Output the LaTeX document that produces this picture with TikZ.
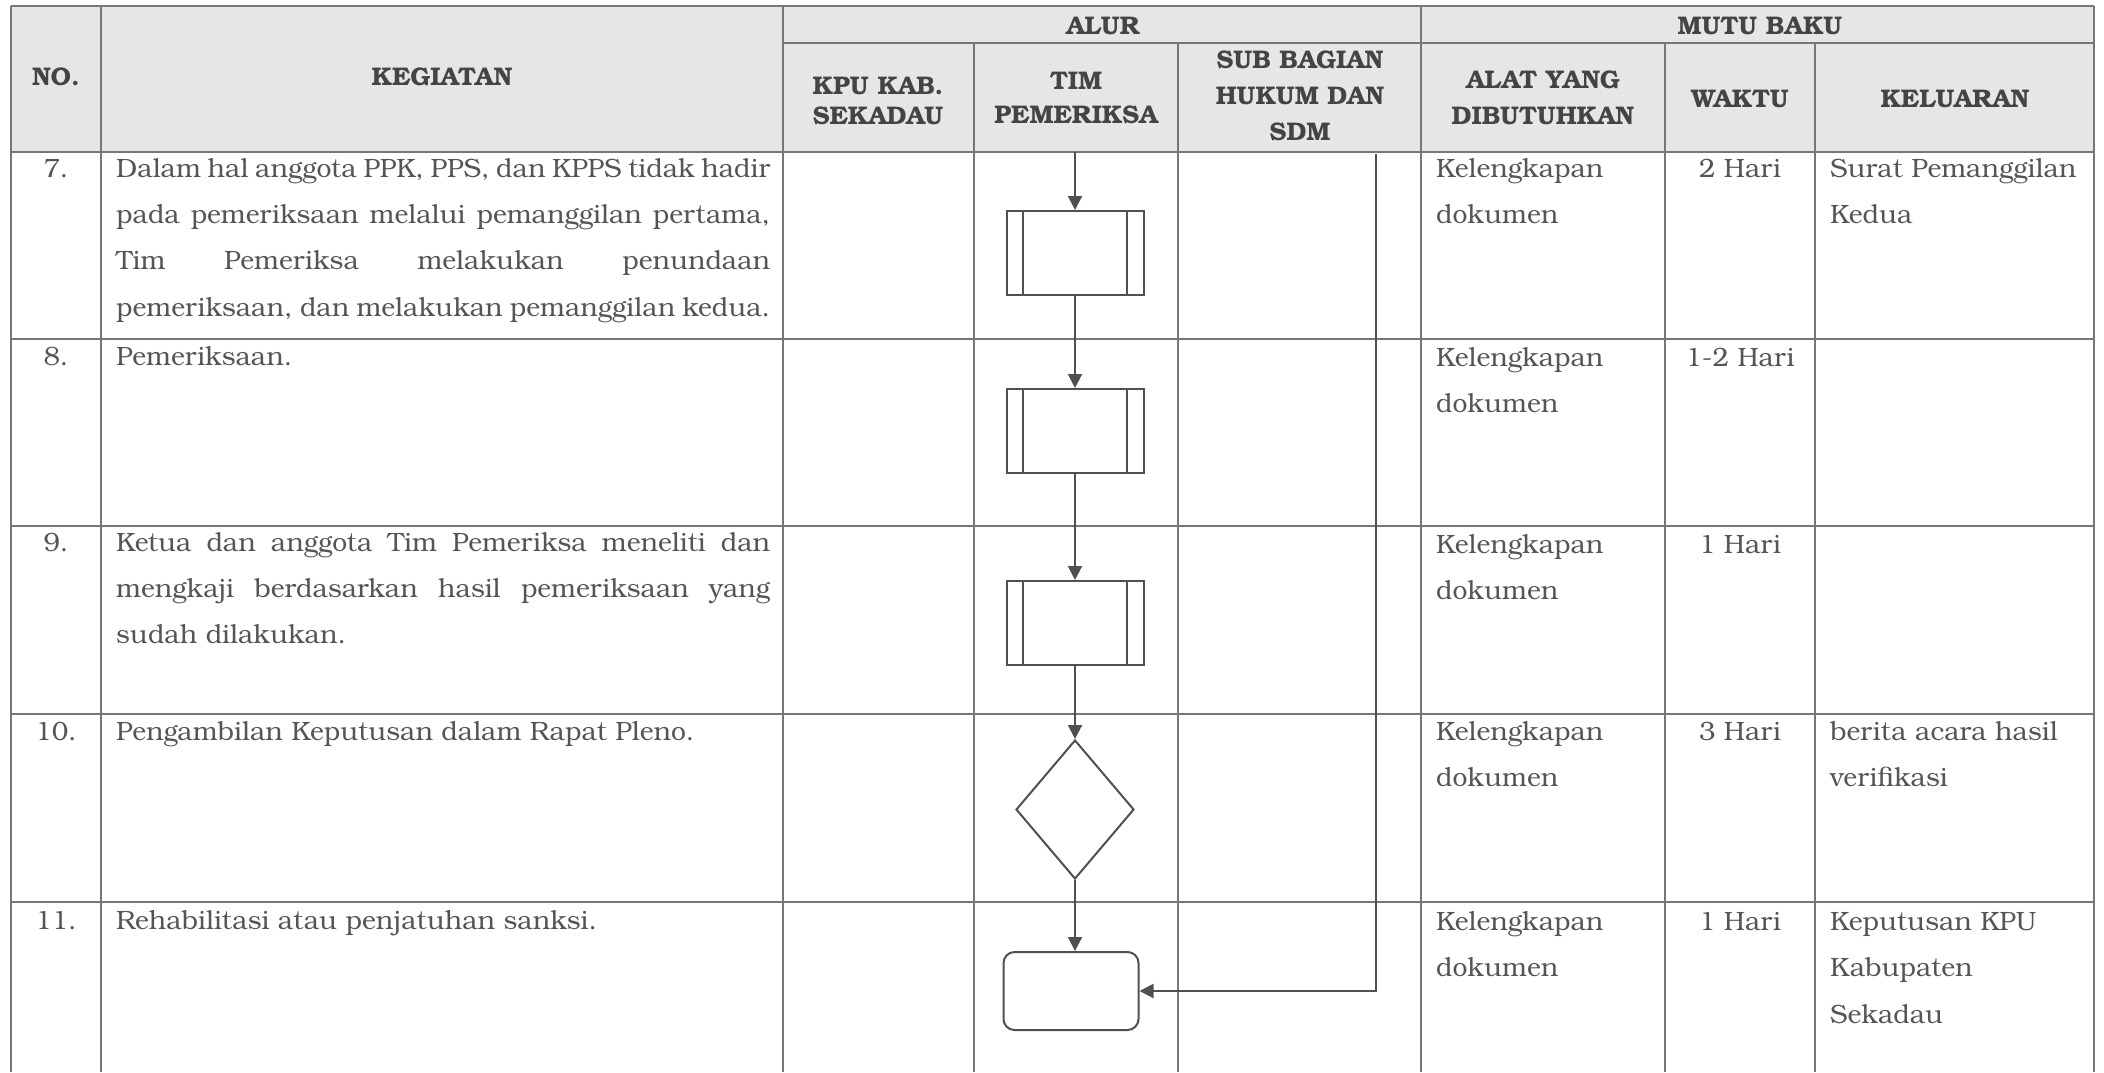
\documentclass[tikz,border=0pt]{standalone}
\usepackage{fontspec}
\setmainfont{texgyrebonum}[Extension=.otf, UprightFont=*-regular, BoldFont=*-bold, ItalicFont=*-italic, BoldItalicFont=*-bolditalic]
\usetikzlibrary{arrows.meta,shapes.geometric}
\definecolor{linec}{HTML}{777777}
\definecolor{headbg}{HTML}{E6E6E6}
\definecolor{txtc}{HTML}{555555}
\definecolor{headc}{HTML}{444444}
\definecolor{flowc}{HTML}{505050}
\tikzset{
  gridline/.style={draw=linec, line width=1.3pt},
  bodytxt/.style={inner sep=0pt, text=txtc, font=\fontsize{26.5}{30}\selectfont},
  headtxt/.style={inner sep=0pt, text=headc, font=\fontsize{25.5}{30}\selectfont\bfseries},
  procbox/.style={draw=flowc, line width=2pt, minimum width=137pt, minimum height=84pt, inner sep=0pt},
  decbox/.style={draw=flowc, line width=2pt, diamond, minimum width=118pt, minimum height=139pt, inner sep=0pt},
  endbox/.style={draw=flowc, line width=2pt, rounded corners=11pt, minimum width=135pt, minimum height=78pt, inner sep=0pt},
  flowarrow/.style={draw=flowc, line width=2pt, -{Triangle[length=14pt,width=14pt]}},
  flowline/.style={draw=flowc, line width=2pt},
}
\newcommand{\jline}[1]{\makebox[654pt][s]{#1}}
\begin{document}
\begin{tikzpicture}[x=1pt,y=-1pt]
\useasboundingbox (0,0) rectangle (2104,1072);
% header background
\fill[headbg] (11,6) rectangle (2094,152);
% horizontal lines
\draw[gridline] (11,6) -- (2094,6);
\draw[gridline] (783,43) -- (2094,43);
\foreach \yy in {152,339,526,714,902} {\draw[gridline] (11,\yy) -- (2094,\yy);}
% vertical lines
\foreach \xx in {11,101,783,1421,2094} {\draw[gridline] (\xx,6) -- (\xx,1072);}
\foreach \xx in {974,1178,1665,1815} {\draw[gridline] (\xx,43) -- (\xx,1072);}

% header texts
\node[headtxt, anchor=base] (hno) at (56,85) {NO.};
\node[headtxt, anchor=base] (hkeg) at (442,85) {KEGIATAN};
\node[headtxt, anchor=base] (halur) at (1103,34) {ALUR};
\node[headtxt, anchor=base] (hmutu) at (1760,34) {MUTU BAKU};
\node[headtxt, anchor=base] (hkpu1) at (878,94) {KPU KAB.};
\node[headtxt, anchor=base] (hkpu2) at (878,124) {SEKADAU};
\node[headtxt, anchor=base] (htim1) at (1076,89) {TIM};
\node[headtxt, anchor=base] (htim2) at (1076,123) {PEMERIKSA};
\node[headtxt, anchor=base] (hsub1) at (1300,68) {SUB BAGIAN};
\node[headtxt, anchor=base] (hsub2) at (1300,104) {HUKUM DAN};
\node[headtxt, anchor=base] (hsub3) at (1300,140) {SDM};
\node[headtxt, anchor=base] (halat1) at (1543,88) {ALAT YANG};
\node[headtxt, anchor=base] (halat2) at (1543,124) {DIBUTUHKAN};
\node[headtxt, anchor=base] (hwaktu) at (1740,107) {WAKTU};
\node[headtxt, anchor=base] (hkel) at (1955,107) {KELUARAN};

% numbers
\node[bodytxt, anchor=base] (n7) at (56,177) {7.};
\node[bodytxt, anchor=base] (n8) at (56,365) {8.};
\node[bodytxt, anchor=base] (n9) at (56,551) {9.};
\node[bodytxt, anchor=base] (n10) at (56,740) {10.};
\node[bodytxt, anchor=base] (n11) at (56,929) {11.};

% kegiatan
\node[bodytxt, anchor=base west] (k7a) at (116,177) {\jline{Dalam hal anggota PPK, PPS, dan KPPS tidak hadir}};
\node[bodytxt, anchor=base west] (k7b) at (116,223) {\jline{pada pemeriksaan melalui pemanggilan pertama,}};
\node[bodytxt, anchor=base west] (k7c) at (116,269) {\jline{Tim Pemeriksa melakukan penundaan}};
\node[bodytxt, anchor=base west] (k7d) at (116,316) {\jline{pemeriksaan, dan melakukan pemanggilan kedua.}};
\node[bodytxt, anchor=base west] (k8a) at (116,365) {Pemeriksaan.};
\node[bodytxt, anchor=base west] (k9a) at (116,551) {\jline{Ketua dan anggota Tim Pemeriksa meneliti dan}};
\node[bodytxt, anchor=base west] (k9b) at (116,597) {\jline{mengkaji berdasarkan hasil pemeriksaan yang}};
\node[bodytxt, anchor=base west] (k9c) at (116,643) {sudah dilakukan.};
\node[bodytxt, anchor=base west] (k10a) at (116,740) {Pengambilan Keputusan dalam Rapat Pleno.};
\node[bodytxt, anchor=base west] (k11a) at (116,929) {Rehabilitasi atau penjatuhan sanksi.};

% alat
\foreach \yy/\nm in {177/7,366/8,553/9,740/10,930/11} {
  \node[bodytxt, anchor=base west] (a\nm a) at (1436,\yy) {Kelengkapan};
  \node[bodytxt, anchor=base west] (a\nm b) at (1436,\yy+46.5) {dokumen};
}
% waktu
\node[bodytxt, anchor=base] (w7) at (1740,177) {2 Hari};
\node[bodytxt, anchor=base] (w8) at (1740,366) {1-2 Hari};
\node[bodytxt, anchor=base] (w9) at (1740,553) {1 Hari};
\node[bodytxt, anchor=base] (w10) at (1740,740) {3 Hari};
\node[bodytxt, anchor=base] (w11) at (1740,930) {1 Hari};
% keluaran
\node[bodytxt, anchor=base west] (o7a) at (1830,177) {Surat Pemanggilan};
\node[bodytxt, anchor=base west] (o7b) at (1830,223.5) {Kedua};
\node[bodytxt, anchor=base west] (o10a) at (1830,740) {berita acara hasil};
\node[bodytxt, anchor=base west] (o10b) at (1830,786.5) {verifikasi};
\node[bodytxt, anchor=base west] (o11a) at (1830,930) {Keputusan KPU};
\node[bodytxt, anchor=base west] (o11b) at (1830,976.5) {Kabupaten};
\node[bodytxt, anchor=base west] (o11c) at (1830,1023) {Sekadau};

% flowchart
\node[procbox] (b1) at (1075,253) {};
\node[procbox] (b2) at (1075,431) {};
\node[procbox] (b3) at (1075,623) {};
\foreach \bb in {b1,b2,b3} {
  \draw[flowline] ([xshift=17pt]\bb.north west) -- ([xshift=17pt]\bb.south west);
  \draw[flowline] ([xshift=-18pt]\bb.north east) -- ([xshift=-18pt]\bb.south east);
}
\node[decbox] (d1) at (1075,809.5) {};
\node[endbox] (r1) at (1071,991) {};
\coordinate (t0) at (1075,152);
\coordinate (s0) at (1376,154);
\draw[flowarrow] (t0) -- (b1.north);
\draw[flowarrow] (b1.south) -- (b2.north);
\draw[flowarrow] (b2.south) -- (b3.north);
\draw[flowarrow] (b3.south) -- (d1.north);
\draw[flowarrow] (d1.south) -- (d1.south |- r1.north);
\draw[flowarrow] (s0) |- (r1.east);
\end{tikzpicture}
\end{document}
